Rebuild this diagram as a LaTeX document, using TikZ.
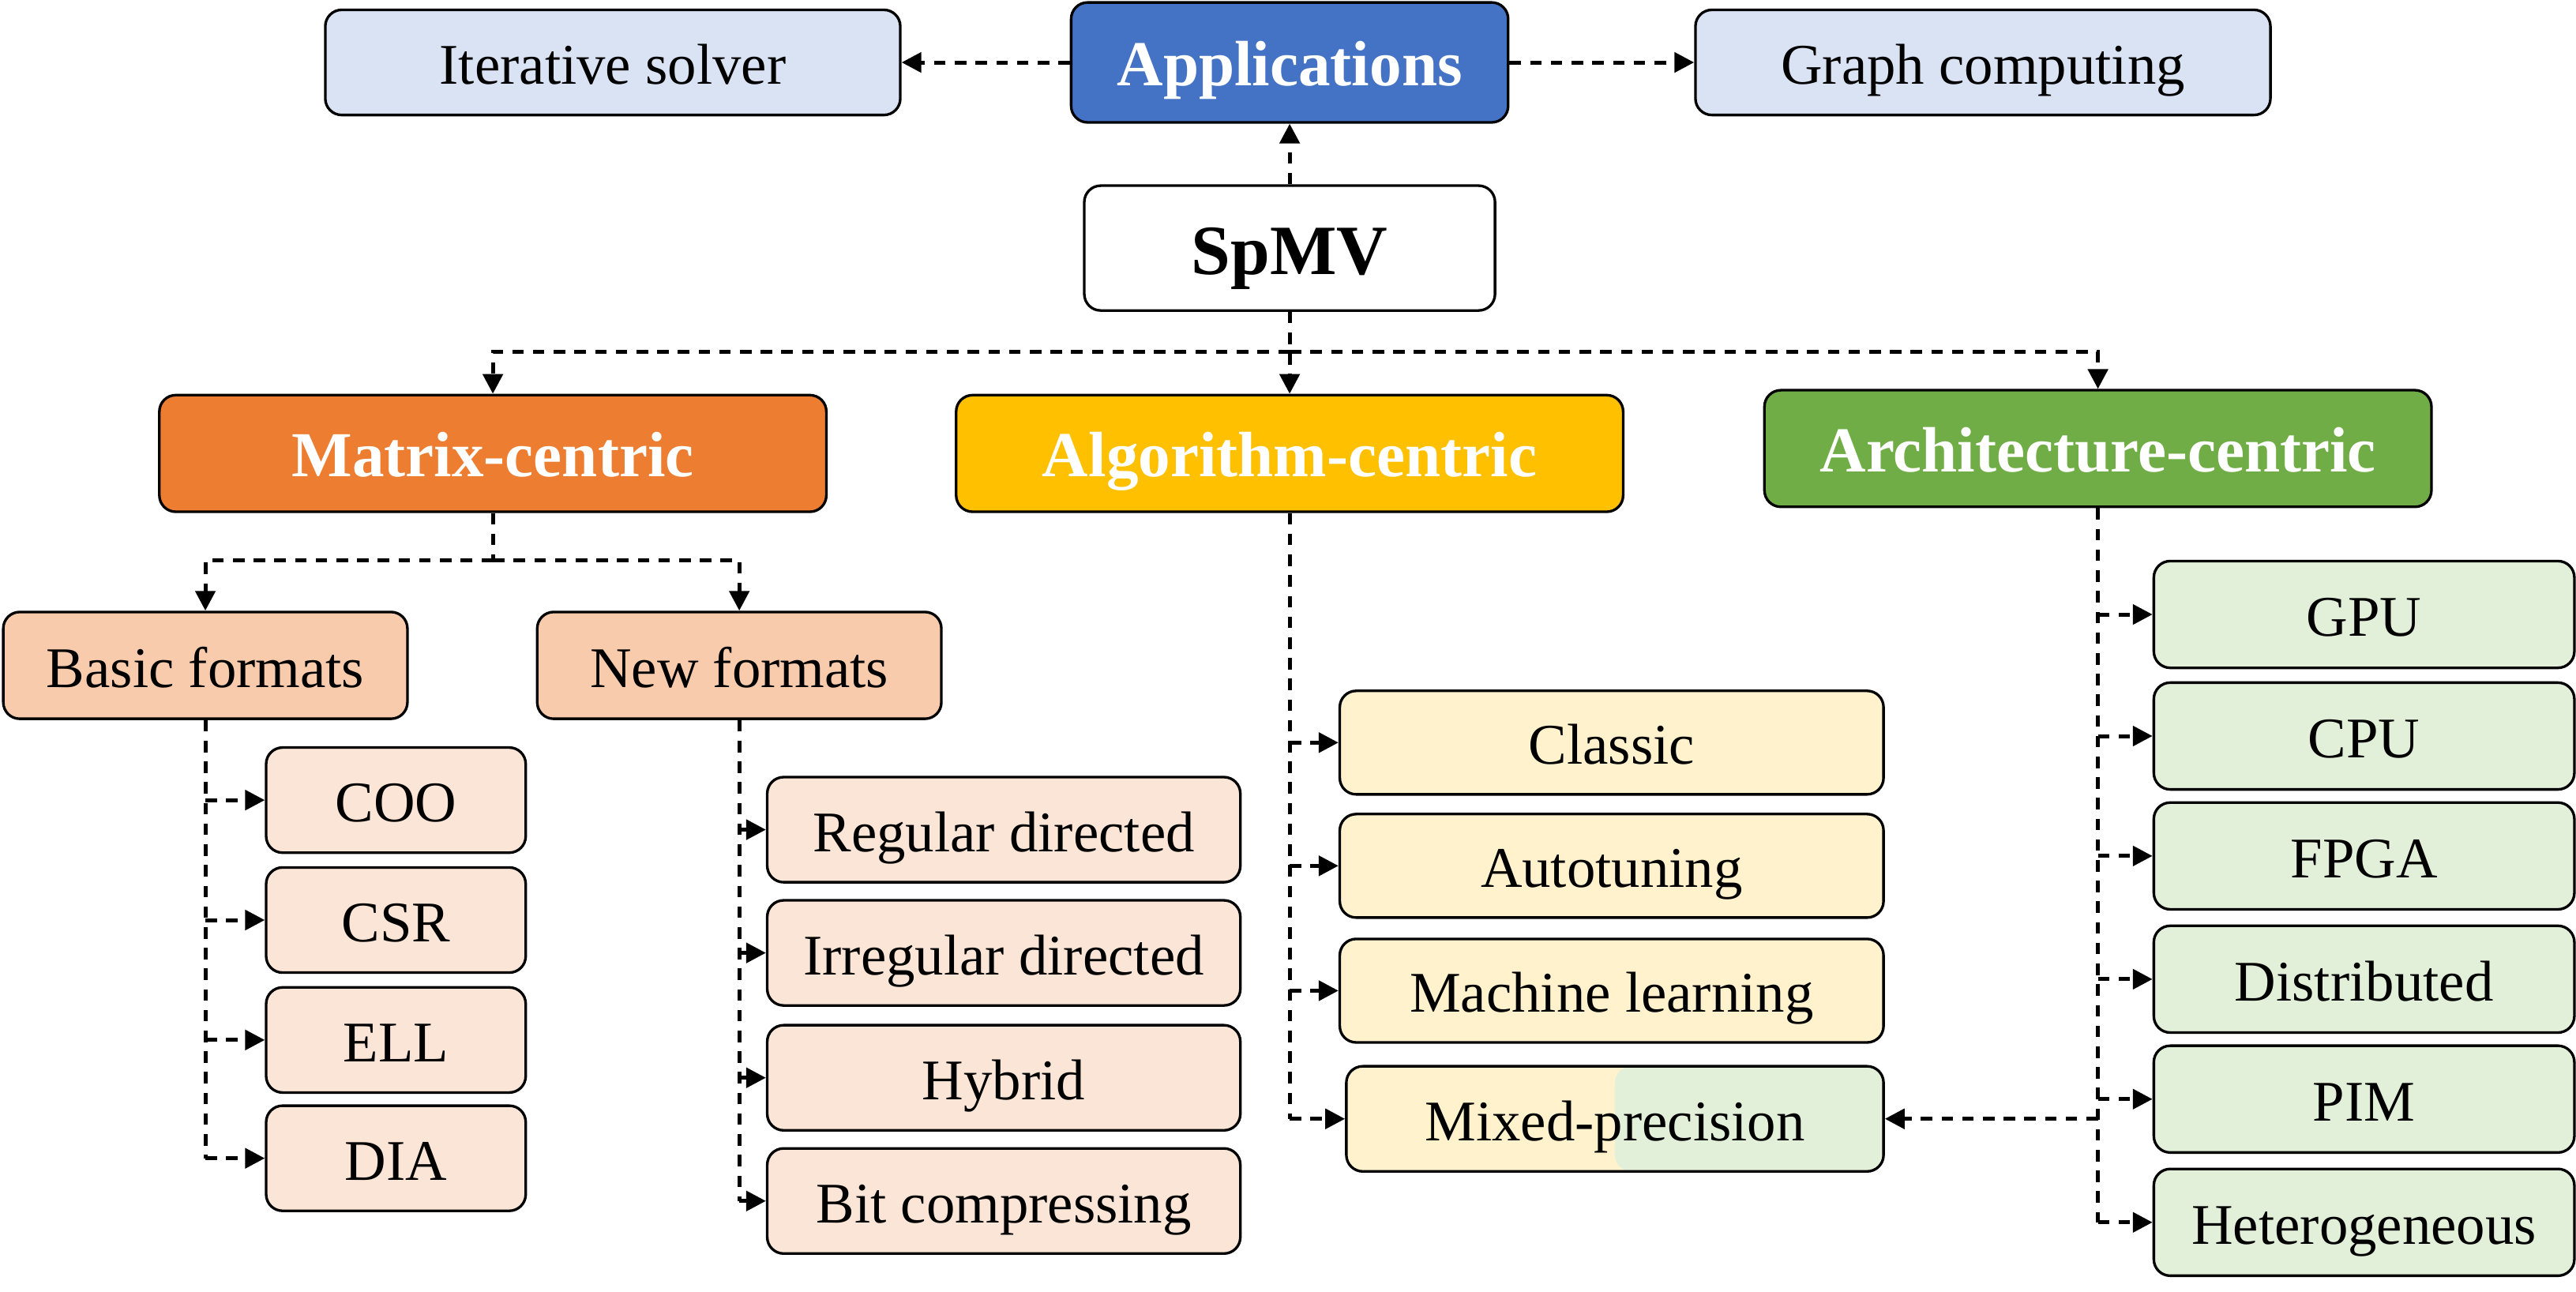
\documentclass[tikz,border=0pt]{standalone}
\usepackage{fontspec}
\setmainfont{Liberation Serif}
\usetikzlibrary{arrows.meta}

\definecolor{appblue}{HTML}{4472C4}
\definecolor{appfill}{HTML}{DAE3F3}
\definecolor{matorange}{HTML}{ED7D31}
\definecolor{matfill}{HTML}{F8CBAD}
\definecolor{matpale}{HTML}{FBE5D6}
\definecolor{algyellow}{HTML}{FFC000}
\definecolor{algfill}{HTML}{FFF2CC}
\definecolor{archgreen}{HTML}{70AD47}
\definecolor{archfill}{HTML}{E2F0D9}

\tikzset{
  box/.style={draw, rounded corners=5pt, line width=0.8pt, inner sep=0pt,
    text height=16.4pt, text depth=3.2pt, font=\fontsize{17.5}{20}\selectfont},
  head/.style={box, minimum width=203pt, minimum height=35.5pt, text=white,
    text height=18pt, text depth=3.8pt, font=\bfseries\fontsize{19.5}{22}\selectfont},
  usebox/.style={box, fill=appfill, minimum width=175pt, minimum height=32pt},
  fmtbox/.style={box, fill=matfill, minimum width=123pt, minimum height=32.5pt},
  basicbox/.style={box, fill=matpale, minimum width=79pt, minimum height=32pt},
  newbox/.style={box, fill=matpale, minimum width=144pt, minimum height=32pt},
  algbox/.style={box, fill=algfill, minimum width=165.5pt, minimum height=31.5pt},
  archbox/.style={box, fill=archfill, minimum width=128pt, minimum height=32.5pt},
  link/.style={line width=1.2pt, dash pattern=on 3.5pt off 2.8pt},
  conn/.style={link, -{Triangle[length=6pt,width=6pt]}}
}

\begin{document}
\begin{tikzpicture}[x=0.5pt,y=0.5pt,yscale=-1]
\useasboundingbox (0,0) rectangle (1568,786);

% top row
\node[head, fill=appblue, minimum width=133pt, minimum height=36.5pt] (app) at (785,38) {Applications};
\node[usebox] (iter) at (373,38) {Iterative solver};
\node[usebox] (graph) at (1207,38) {Graph computing};
\node[box, minimum width=125pt, minimum height=38pt, text height=20pt, text depth=4pt,
  font=\bfseries\fontsize{21.5}{24}\selectfont] (spmv) at (785,151) {SpMV};

% three views
\node[head, fill=matorange] (mat) at (300,276) {Matrix-centric};
\node[head, fill=algyellow] (alg) at (785,276) {Algorithm-centric};
\node[head, fill=archgreen] (arch) at (1277,273) {Architecture-centric};

% format groups
\node[fmtbox] (basic) at (125,405) {Basic formats};
\node[fmtbox] (newf) at (450,405) {New formats};

\foreach \name/\txt/\y in {coo/COO/487, csr/CSR/560, ell/ELL/633, dia/DIA/705}
  \node[basicbox] (\name) at (241,\y) {\txt};
\foreach \name/\txt/\y in {reg/Regular directed/505, irreg/Irregular directed/580,
    hyb/Hybrid/656, bitc/Bit compressing/731}
  \node[newbox] (\name) at (611,\y) {\txt};
\foreach \name/\txt/\y in {classic/Classic/452, tune/Autotuning/527, ml/Machine learning/603}
  \node[algbox] (\name) at (981,\y) {\txt};
\node[algbox, minimum width=163.5pt, minimum height=32pt,
  path picture={
    \fill[algfill] (path picture bounding box.south west) rectangle (path picture bounding box.north);
    \fill[archfill] (path picture bounding box.south) rectangle (path picture bounding box.north east);
  }] (mixed) at (983,681) {Mixed-precision};
\foreach \name/\txt/\y in {gpu/GPU/374, cpu/CPU/448, fpga/FPGA/521, dist/Distributed/596,
    pim/PIM/669, het/Heterogeneous/744}
  \node[archbox] (\name) at (1439,\y) {\txt};

% connectors
\draw[conn] (spmv) -- (app);
\draw[conn] (app) -- (iter);
\draw[conn] (app) -- (graph);

\coordinate (sj) at (785,214);
\draw[conn] (spmv) -- (alg);
\draw[conn] (sj) -| (mat);
\draw[conn] (sj) -| (arch);

\coordinate (mj) at (300,341);
\draw[link] (mat) -- (mj);
\draw[conn] (mj) -| (basic);
\draw[conn] (mj) -| (newf);

\draw[link] (basic.south) -- (basic.south |- dia.west);
\foreach \name in {coo,csr,ell,dia}
  \draw[conn] (basic.south |- \name.west) -- (\name.west);

\draw[link] (newf.south) -- (newf.south |- bitc.west);
\foreach \name in {reg,irreg,hyb,bitc}
  \draw[conn] (newf.south |- \name.west) -- (\name.west);

\draw[link] (alg.south) -- (alg.south |- mixed.west);
\foreach \name in {classic,tune,ml,mixed}
  \draw[conn] (alg.south |- \name.west) -- (\name.west);

\draw[link] (arch.south) -- (arch.south |- het.west);
\foreach \name in {gpu,cpu,fpga,dist,pim,het}
  \draw[conn] (arch.south |- \name.west) -- (\name.west);
\draw[conn] (arch.south |- mixed.east) -- (mixed.east);

\end{tikzpicture}
\end{document}
